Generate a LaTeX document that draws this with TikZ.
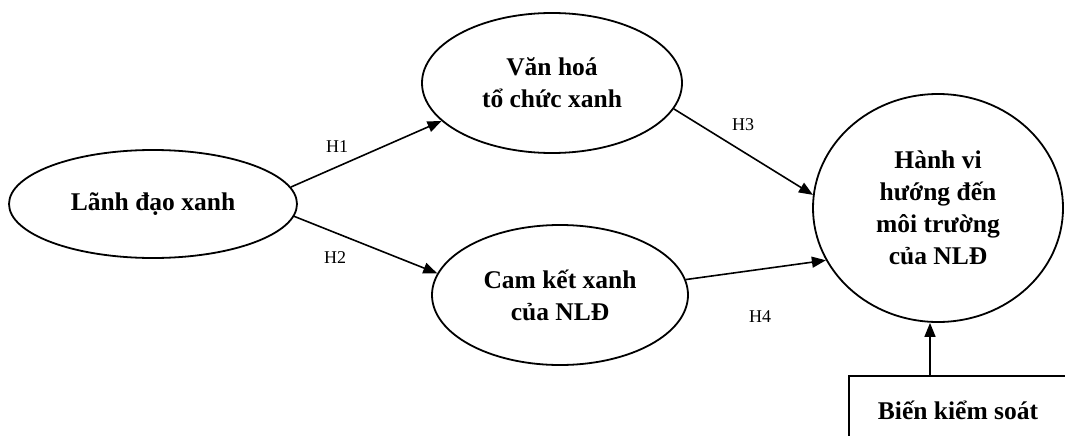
\documentclass[tikz,border=0pt]{standalone}
\usepackage{fontspec}
\setmainfont{Liberation Serif}
\usetikzlibrary{shapes.geometric,arrows.meta}
\begin{document}
\begin{tikzpicture}[x=1pt,y=-1pt,
  ell/.style={draw,line width=1.8pt,ellipse,inner sep=0pt,align=center,font=\fontsize{25.5}{32}\selectfont\bfseries},
  lab/.style={font=\fontsize{18}{20}\selectfont},
  arr/.style={line width=1.6pt,-{Triangle[length=14pt,width=11pt]}}]
\useasboundingbox (0,0) rectangle (1065,436);
\begin{scope}
\clip (0,0) rectangle (1065,436);
\node[draw,line width=1.5pt,minimum width=240pt,minimum height=80pt,anchor=north west] (box) at (848,375) {};
\end{scope}
\node[font=\fontsize{25.5}{32}\selectfont\bfseries] (boxt) at (958,410) {Biến kiểm soát};
\node[ell,minimum width=288pt,minimum height=108pt] (a) at (153,204) {Lãnh đạo xanh};
\node[ell,minimum width=260pt,minimum height=140pt] (b) at (552,83) {Văn hoá\\tổ chức xanh};
\node[ell,minimum width=256pt,minimum height=140pt] (c) at (560,295) {Cam kết xanh\\của NLĐ};
\node[ell,minimum width=250pt,minimum height=228pt] (d) at (938,208) {Hành vi\\hướng đến\\môi trường\\của NLĐ};
\coordinate (boxtop) at (930,375);
\draw[arr] (a.7) -- (b.199);
\draw[arr] (a.-5) -- (c.170);
\draw[arr] (b.-12) -- (d.174);
\draw[arr] (c.7) -- (d.-155);
\draw[arr] (boxtop) -- (d.south -| boxtop);
\node[lab] (h1) at (337,147) {H1};
\node[lab] (h2) at (335,258) {H2};
\node[lab] (h3) at (743,125) {H3};
\node[lab] (h4) at (760,317) {H4};
\end{tikzpicture}
\end{document}
